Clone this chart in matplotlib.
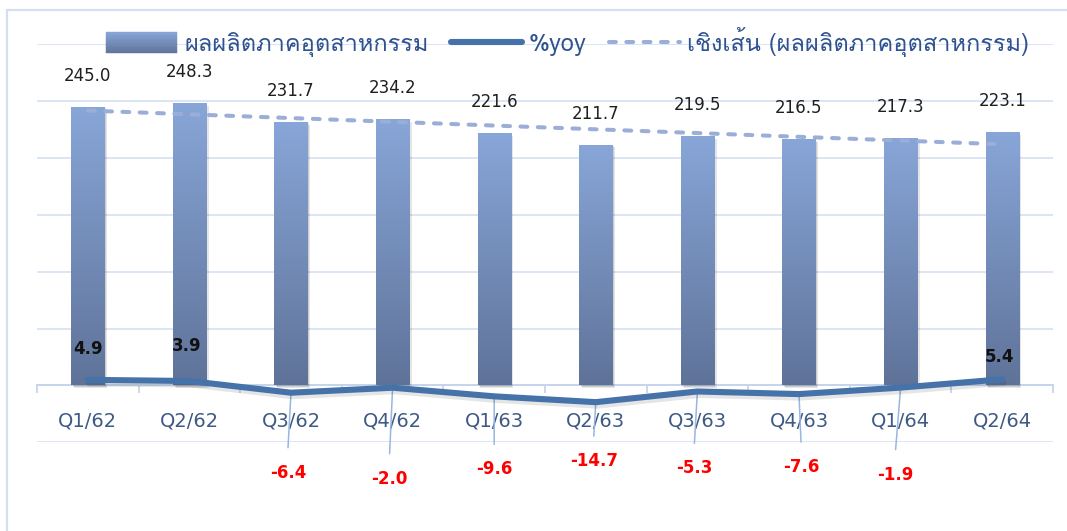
import numpy as np
import matplotlib
matplotlib.use('Agg')
import matplotlib.pyplot as plt
import matplotlib.patheffects as pe
from matplotlib import font_manager, ft2font
from matplotlib.colors import to_rgb
from matplotlib.patches import Rectangle
from matplotlib.lines import Line2D
from matplotlib.legend_handler import HandlerBase

quarters = ['Q1/62', 'Q2/62', 'Q3/62', 'Q4/62', 'Q1/63',
            'Q2/63', 'Q3/63', 'Q4/63', 'Q1/64', 'Q2/64']
output = [245.0, 248.3, 231.7, 234.2, 221.6, 211.7, 219.5, 216.5, 217.3, 223.1]
yoy = [4.9, 3.9, -6.4, -2.0, -9.6, -14.7, -5.3, -7.6, -1.9, 5.4]

lbl_bar = 'ผลผลิตภาคอุตสาหกรรม'
lbl_yoy = '%yoy'
lbl_trend = 'เชิงเส้น (ผลผลิตภาคอุตสาหกรรม)'

# hand placed %yoy labels (pixels from the point), like dragged excel labels
yoy_off = [(0, 31), (-3, 35), (-3, -80), (-3, -91), (0, -73),
           (-2, -59), (-3, -77), (2, -73), (-5, -87), (-3, 22)]

# find something that can draw thai
thai = None
for f in font_manager.fontManager.ttflist:
    try:
        cm = ft2font.FT2Font(f.fname).get_charmap()
    except Exception:
        continue
    if 0x0E1C in cm and 0x0E25 in cm:
        thai = f.name
        break
fams = ['DejaVu Sans'] if thai is None else [thai, 'DejaVu Sans']

top_c = np.array(to_rgb('#88a6d8'))
bot_c = np.array(to_rgb('#5f7399'))
bar_txt = '#1f1f1f'
cat_col = '#3e5a84'
leg_col = '#2f5290'
line_col = '#4672aa'
trend_col = '#9aaed8'
grid_col = '#d9e3f2'
axis_col = '#c6d5eb'


class GradHandler(HandlerBase):
    def create_artists(self, legend, orig_handle, xdescent, ydescent,
                       width, height, fontsize, trans):
        arts = []
        n = 16
        for k in range(n):
            t = (k + 0.5) / n
            c = top_c * (1 - t) + bot_c * t
            y0 = -ydescent + height * (1 - (k + 1) / n)
            arts.append(Rectangle((-xdescent, y0), width, height / n,
                                  fc=c, ec=c, lw=0.3, transform=trans))
        return arts


fig = plt.figure(figsize=(10.67, 5.31), dpi=100)
ax = fig.add_axes([37/1067, 1 - 442.3/531, (1053-37)/1067, (442.3-44.3)/531])

x = np.arange(len(quarters))
bars = ax.bar(x, output, width=0.325, color=bot_c, zorder=2,
              path_effects=[pe.SimplePatchShadow(offset=(2, -2), shadow_rgbFace='k', alpha=0.1),
                            pe.SimplePatchShadow(offset=(1, -1), shadow_rgbFace='k', alpha=0.1),
                            pe.Normal()])

g = np.linspace(0, 1, 256)[:, None, None]
img = top_c * (1 - g) + bot_c * g
for b in bars:
    l = b.get_x()
    im = ax.imshow(img, extent=[l, l + b.get_width(), 0, b.get_height()],
                   aspect='auto', origin='upper', zorder=2.1, interpolation='bilinear')
    im.set_clip_path(b)

for i, v in enumerate(output):
    ax.annotate(f'{v:.1f}', (i, v), xytext=(0, 31), textcoords='offset pixels',
                ha='center', va='center', fontsize=12, color=bar_txt, zorder=5)

# linear trend of the bars (excel "เชิงเส้น")
p = np.polyfit(x, output, 1)
trend = np.polyval(p, x)
ax.plot(x, trend, color=trend_col, lw=2.9, ls=(0, (1.7, 2.6)),
        dash_capstyle='round', zorder=3.5)

ax.plot(x, yoy, color=line_col, lw=4.4, solid_capstyle='round', solid_joinstyle='round',
        zorder=4, path_effects=[pe.SimpleLineShadow(offset=(1, -2.5), shadow_color='k', alpha=0.1),
                                pe.Normal()])

for i, v in enumerate(yoy):
    dx, dy = yoy_off[i]
    if v < 0:
        ax.annotate('', (i, v), xytext=(dx, dy + 25), textcoords='offset pixels',
                    arrowprops=dict(arrowstyle='-', color='#98b6e0', lw=1.1,
                                    shrinkA=0, shrinkB=0), zorder=3.8)
        col = '#ff0000'
    else:
        col = '#111111'
    ax.annotate(f'{v:.1f}', (i, v), xytext=(dx, dy), textcoords='offset pixels',
                ha='center', va='center', fontsize=12, fontweight='bold',
                color=col, zorder=5)

ax.set_xlim(-0.5, len(quarters) - 0.5)
ax.set_ylim(-50, 300)
ax.set_yticks(np.arange(-50, 301, 50))
ax.tick_params(axis='y', length=0, labelleft=False)
ax.yaxis.grid(True, color=grid_col, lw=1.3)
ax.set_axisbelow(True)

for s in ['left', 'right', 'top']:
    ax.spines[s].set_visible(False)
ax.spines['bottom'].set_position(('data', 0))
ax.spines['bottom'].set_color(axis_col)
ax.spines['bottom'].set_linewidth(1.4)
ax.spines['bottom'].set_zorder(1.5)

ax.set_xticks(x)
ax.set_xticklabels(quarters)
ax.set_xticks(np.arange(-0.5, len(quarters)), minor=True)
ax.tick_params(axis='x', which='major', length=0, pad=19, labelsize=14, labelcolor=cat_col)
ax.tick_params(axis='x', which='minor', length=6, width=1.3, color=axis_col, direction='out')

# outer chart frame (cut off on the right and bottom)
fig.add_artist(Rectangle((7/1067, -0.1), 1.2, 1.1 - 10/531, transform=fig.transFigure,
                         fill=False, ec='#d3e0f1', lw=1.6))

h_bar = Rectangle((0, 0), 1, 1)
h_yoy = Line2D([], [], color=line_col, lw=4.4, solid_capstyle='round')
h_trend = Line2D([], [], color=trend_col, lw=2.9, ls=(0, (1.7, 2.6)), dash_capstyle='round')
leg = fig.legend([h_bar, h_yoy, h_trend], [lbl_bar, lbl_yoy, lbl_trend],
                 loc='center', bbox_to_anchor=(0.532, 1 - 42/531), ncol=3, frameon=False,
                 handler_map={h_bar: GradHandler()}, handlelength=3.0, handleheight=1.0,
                 handletextpad=0.3, columnspacing=0.95, borderpad=0,
                 prop={'family': fams, 'size': 17})
for t in leg.get_texts():
    t.set_color(leg_col)

fig.savefig('out.png', dpi=100)
